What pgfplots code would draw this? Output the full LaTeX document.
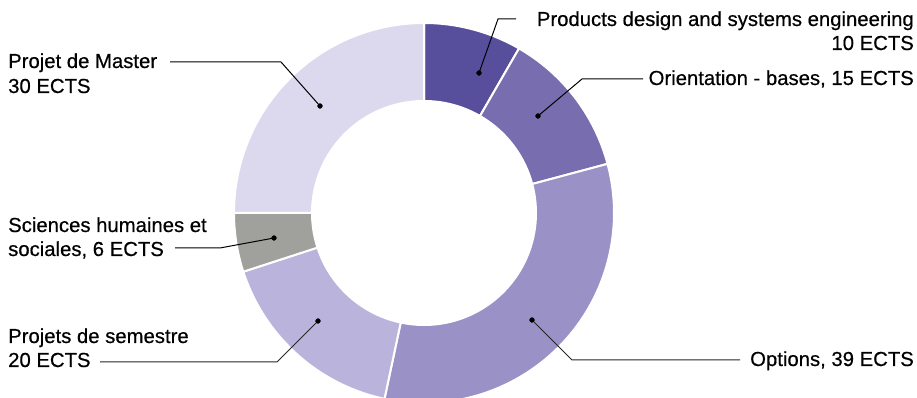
\documentclass[border=0pt]{standalone}
\usepackage{pgfplots}
\pgfplotsset{compat=1.18}
\usepackage{pgfplotstable}
\usepgfplotslibrary{fillbetween}
\usepackage{fontspec}
\setmainfont{Liberation Sans}
\newfontfamily\lblfont{Liberation Sans}[FakeBold=0.5]

\definecolor{c0}{HTML}{584F9C}
\definecolor{c1}{HTML}{786DAE}
\definecolor{c2}{HTML}{9A91C6}
\definecolor{c3}{HTML}{BAB4DC}
\definecolor{c4}{HTML}{A0A09C}
\definecolor{c5}{HTML}{DCD9EE}

% ECTS per block, clockwise from the top
\pgfplotstableread{
ects
10
15
39
20
6
30
}\ectsdata

\pgfplotstablegetrowsof{\ectsdata}
\pgfmathtruncatemacro\nrows{\pgfplotsretval-1}
\def\total{0}
\pgfplotsforeachungrouped \i in {0,...,\nrows}{%
  \pgfplotstablegetelem{\i}{ects}\of\ectsdata
  \pgfmathsetmacro\total{\total+\pgfplotsretval}}
\pgfmathsetmacro\degper{360/\total}
\def\cum{0}
\pgfplotsforeachungrouped \i in {0,...,\nrows}{%
  \pgfplotstablegetelem{\i}{ects}\of\ectsdata
  \pgfmathsetmacro\angA{90-\degper*\cum}%
  \pgfmathsetmacro\cum{\cum+\pgfplotsretval}%
  \pgfmathsetmacro\angB{90-\degper*\cum}%
  \expandafter\xdef\csname sa\i\endcsname{\angA}%
  \expandafter\xdef\csname sb\i\endcsname{\angB}}

\begin{document}%
\begin{tikzpicture}[font=\lblfont\fontsize{20.3}{25}\selectfont]
\begin{axis}[at={(0,0)}, anchor=south west, scale only axis,
  width=917pt, height=398pt, xmin=0, xmax=917, ymin=0, ymax=398,
  hide axis]
\pgfplotsinvokeforeach{0,...,5}{
  \addplot[name path=o#1, draw=none, domain=\csname sb#1\endcsname:\csname sa#1\endcsname, samples=90]
    ({424+190*cos(x)},{185+190*sin(x)});
  \addplot[name path=i#1, draw=none, domain=\csname sb#1\endcsname:\csname sa#1\endcsname, samples=90]
    ({424+112*cos(x)},{185+112*sin(x)});
  \addplot[fill=c#1, draw=white, line width=2pt] fill between[of=o#1 and i#1];
}
% leader lines
\addplot[black, line width=1pt] coordinates {(479,325) (498,379) (516,379)};
\addplot[black, line width=1pt] coordinates {(538,282) (582,319) (643,319)};
\addplot[black!85, line width=1pt] coordinates {(532,78) (572,38) (740,38)};
\addplot[black!85, line width=1pt] coordinates {(318,77) (277,36) (100,36)};
\addplot[black, line width=1pt] coordinates {(274,160) (220,150) (175,150)};
\addplot[black, line width=1pt] coordinates {(320,292) (281,336) (170,336)};
\addplot[only marks, mark=*, mark size=2.4pt, black] coordinates
  {(479,325) (538,282) (532,78) (318,77) (274,160) (320,292)};
% labels
\node[anchor=base east, inner sep=0pt] at (axis cs:914,372) {Products design and systems engineering};
\node[anchor=base east, inner sep=0pt] at (axis cs:914,348) {10 ECTS};
\node[anchor=base east, inner sep=0pt] at (axis cs:914,313) {Orientation - bases, 15 ECTS};
\node[anchor=base east, inner sep=0pt] at (axis cs:914,32) {Options, 39 ECTS};
\node[anchor=base west, inner sep=0pt] at (axis cs:8,330) {Projet de Master};
\node[anchor=base west, inner sep=0pt] at (axis cs:8,305) {30 ECTS};
\node[anchor=base west, inner sep=0pt] at (axis cs:8,166) {Sciences humaines et};
\node[anchor=base west, inner sep=0pt] at (axis cs:8,142) {sociales, 6 ECTS};
\node[anchor=base west, inner sep=0pt] at (axis cs:8,55) {Projets de semestre};
\node[anchor=base west, inner sep=0pt] at (axis cs:8,31) {20 ECTS};
\end{axis}
\pgfresetboundingbox
\path (0,0) rectangle (917pt,398pt);
\end{tikzpicture}%
\end{document}
